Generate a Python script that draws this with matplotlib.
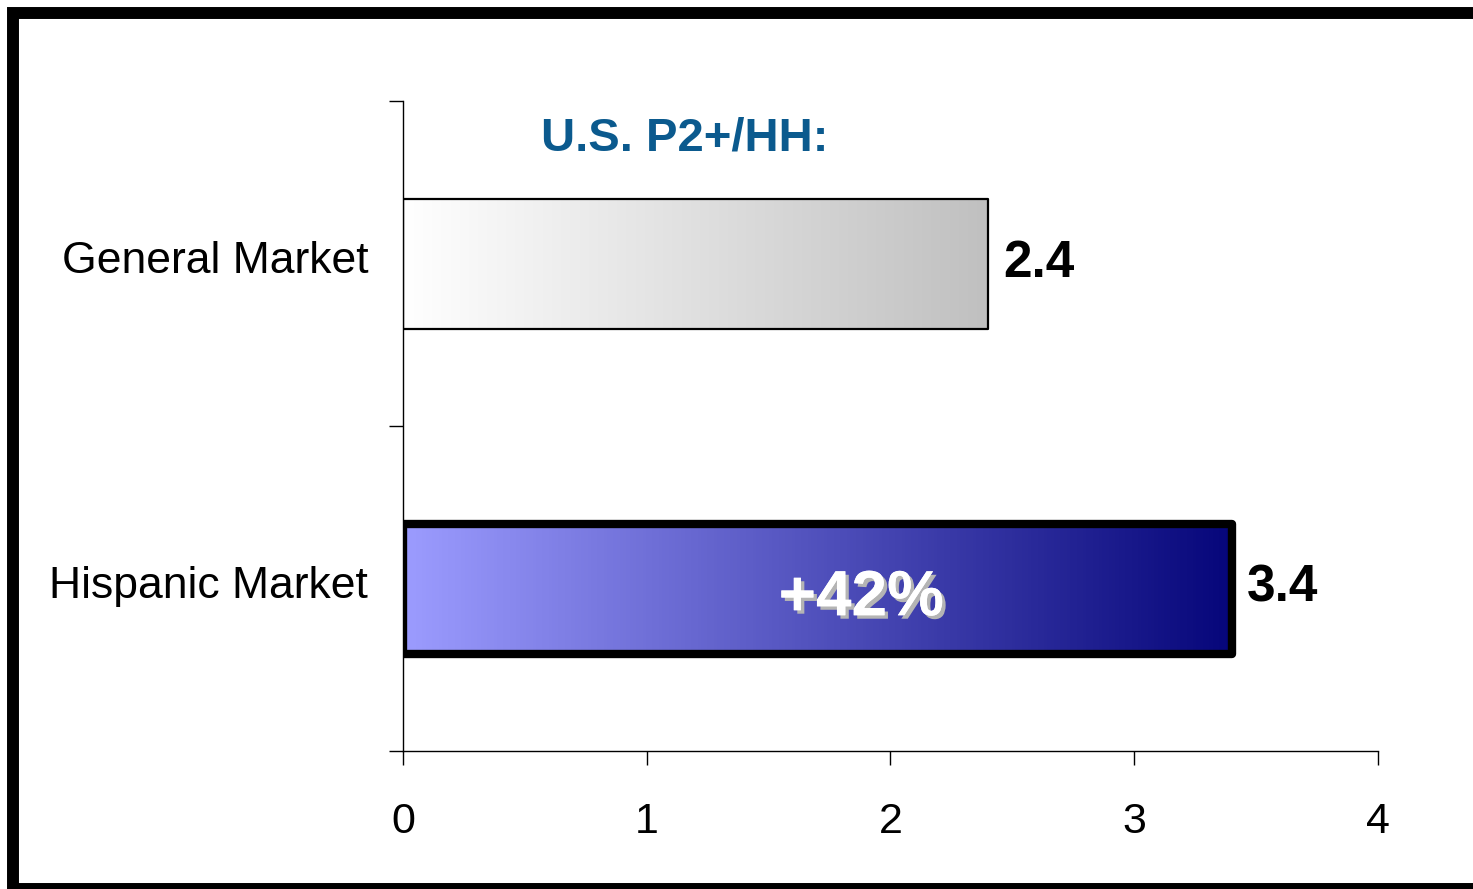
import numpy as np
import matplotlib
matplotlib.use('Agg')
import matplotlib.pyplot as plt
import matplotlib.patheffects as pe
import matplotlib.transforms as mtransforms
from matplotlib.colors import LinearSegmentedColormap
from matplotlib.patches import Rectangle

plt.rcParams['font.family'] = ['Liberation Sans', 'DejaVu Sans']

# data
categories = ['General Market', 'Hispanic Market']
values = [2.4, 3.4]
value_labels = ['2.4', '3.4']
xticks = [0, 1, 2, 3, 4]
title = 'U.S. P2+/HH:'
lift_label = '+42%'

W, H = 1473, 889
fig = plt.figure(figsize=(W / 100, H / 100), dpi=100)
ax = fig.add_axes([403 / W, (H - 751) / H, 975 / W, 650 / H])

ypos = [0, 1]
bar_h = 0.4
grad_maps = [
    LinearSegmentedColormap.from_list('gm', ['#ffffff', '#c0c0c0']),
    LinearSegmentedColormap.from_list('hm', ['#9c9cff', '#06067a']),
]
edge_lw = [1.6, 6.0]

bars = ax.barh(ypos, values, height=bar_h, color='none', zorder=3)
grad = np.linspace(0, 1, 256).reshape(1, -1)
for bar, cmap, lw in zip(bars, grad_maps, edge_lw):
    bar.set_edgecolor('black')
    bar.set_linewidth(lw)
    bar.set_joinstyle('round')
    x0, y0 = bar.get_x(), bar.get_y()
    w, h = bar.get_width(), bar.get_height()
    im = ax.imshow(grad, cmap=cmap, aspect='auto', extent=(x0, x0 + w, y0 + h, y0),
                   zorder=2)
    im.set_clip_path(bar)

ax.set_xlim(0, 4)
ax.set_ylim(1.5, -0.5)

for y, v, lab in zip(ypos, values, value_labels):
    ax.annotate(lab, (v, y), xytext=(11, 0), textcoords='offset points',
                ha='left', va='center', fontsize=37, fontweight='bold', color='black')

ax.text(1.88, 1.03, lift_label, ha='center', va='center', fontsize=46,
        fontweight='bold', color='white', zorder=5,
        path_effects=[pe.withSimplePatchShadow(offset=(2.5, -2.5),
                                               shadow_rgbFace='#b4b4b4', alpha=1),
                      pe.Normal()])

ax.text(0.289, 0.943, title, transform=ax.transAxes, ha='center', va='center',
        fontsize=34, fontweight='bold', color='#0b5a8e')

ax.set_xticks(xticks)
ax.set_xticklabels([str(t) for t in xticks], fontsize=31)
ax.tick_params(axis='x', direction='out', length=10, width=1, pad=27)
ax.set_yticks(ypos)
ax.set_yticklabels(categories, fontsize=32, va='bottom')
ax.tick_params(axis='y', which='major', length=0, pad=25)
ax.set_yticks([-0.5, 0.5, 1.5], minor=True)
ax.tick_params(axis='y', which='minor', direction='out', length=10, width=1)
# nudge category labels up slightly
for lab in ax.get_yticklabels():
    lab.set_verticalalignment('center')
    lab.set_transform(lab.get_transform() + mtransforms.ScaledTranslation(0, 2 / 100, fig.dpi_scale_trans))

for s in ['top', 'right']:
    ax.spines[s].set_visible(False)
for s in ['left', 'bottom']:
    ax.spines[s].set_linewidth(1)

# outer frame
fig.add_artist(Rectangle((13 / W, 0), 1.2, 1 - 13 / H, transform=fig.transFigure,
                         fill=False, edgecolor='black', linewidth=8.6, clip_on=False))

fig.savefig('out.png', dpi=100)
